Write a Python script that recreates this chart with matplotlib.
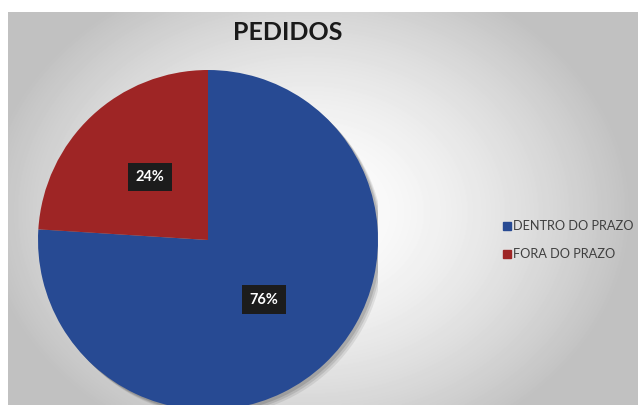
import numpy as np
import matplotlib.pyplot as plt
from matplotlib.patches import Circle

# data
labels = ["DENTRO DO PRAZO", "FORA DO PRAZO"]
values = [76, 24]
colors = ["#274A93", "#9E2525"]

W, H = 638, 405
fig = plt.figure(figsize=(W / 100, H / 100), dpi=100)
fig.patch.set_facecolor("white")

# radial gray background
bg = fig.add_axes([8 / W, 0, 1 - 8 / W, 1 - 12 / H])
bg.axis("off")
yy, xx = np.mgrid[0:393, 0:630]
d = np.sqrt(((xx - 300) / 330.0) ** 2 + ((yy - 200) / 260.0) ** 2)
shade = np.clip(1.0 - 0.25 * d ** 1.6, 0.76, 1.0)
bg.imshow(shade, cmap="gray", vmin=0, vmax=1, aspect="auto", interpolation="bilinear")

# pie
ax = fig.add_axes([38 / W, -5 / H, 340 / W, 340 / H])
# soft shadow behind the whole pie
for k, a in [(0.035, 0.08), (0.025, 0.1), (0.015, 0.12)]:
    ax.add_patch(Circle((k, -k), 1.0, color="black", alpha=a, lw=0))
ax.pie(values, colors=colors, startangle=90, counterclock=False,
       radius=1.0, wedgeprops=dict(linewidth=0))
ax.set_xlim(-1, 1)
ax.set_ylim(-1, 1)
ax.set_aspect("equal")
ax.axis("off")

# percentage labels
label_pos = [(0.33, -0.35), (-0.34, 0.37)]
for v, (x, y) in zip(values, label_pos):
    ax.text(x, y, f"{v}%", color="white", fontsize=10.5, fontweight="bold",
            family="Lato", ha="center", va="center",
            bbox=dict(boxstyle="square,pad=0.5", fc="#1c1c1c", ec="none"))

fig.text(288 / W, 1 - 33 / H, "PEDIDOS", fontsize=18, fontweight="bold",
         family="Lato", color="#1a1a1a", ha="center", va="center")

# legend
for i, (lab, c) in enumerate(zip(labels, colors)):
    y = 1 - (226 + 28 * i) / H
    fig.patches.append(plt.Rectangle((503 / W, y - 4 / H), 8 / W, 8 / H,
                                     transform=fig.transFigure, color=c))
    fig.text(513 / W, y, lab, fontsize=9.2, family="Lato", color="#404040",
             ha="left", va="center")

fig.savefig("out.png", dpi=100)
